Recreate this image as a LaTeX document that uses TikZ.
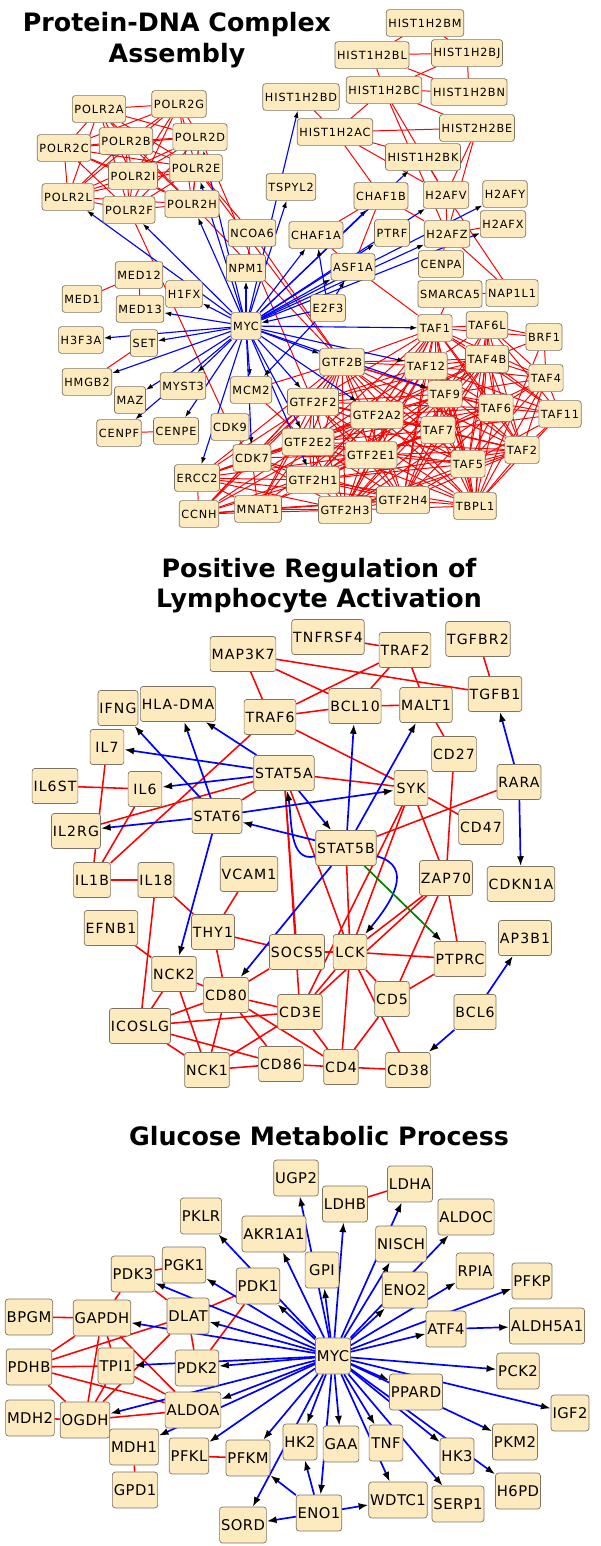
\documentclass[tikz,border=0pt]{standalone}
\usepackage{fontspec}
\setmainfont{DejaVu Sans}
\newfontfamily\genefont[LetterSpace=8]{DejaVu Sans}
\newfontfamily\genefontc[LetterSpace=3]{DejaVu Sans}
\usetikzlibrary{arrows.meta,
	backgrounds}
\definecolor{wheatfill}{RGB}{253,234,190}
\definecolor{boxline}{RGB}{125,118,100}

\begin{document}
\begin{tikzpicture}[x=0.025cm,y=-0.025cm]
        \tikzstyle{gene}=[draw=boxline,fill=wheatfill,rounded corners=2pt,line width=0.5pt,font={\genefont\fontsize{8}{9}\selectfont},minimum height=19pt,minimum width=18.5pt,inner xsep=1.5pt,inner ysep=0pt]
        \tikzstyle{geneb}=[gene,font={\genefont\fontsize{10}{11}\selectfont},minimum height=25pt,minimum width=24pt,inner xsep=1pt]
        \tikzstyle{genec}=[gene,font={\genefontc\fontsize{10.5}{12}\selectfont},minimum height=25.5pt,minimum width=24pt,inner xsep=1pt]
        \tikzstyle{ppi}=[red,line width=0.7pt]
        \tikzstyle{reg}=[blue,line width=0.8pt,-{Latex[black,length=5pt,width=3.5pt]}]
        \tikzstyle{ppib}=[red,line width=1.1pt]
        \tikzstyle{regb}=[blue,line width=1.2pt,-{Latex[black,length=7pt,width=5pt]}]
        \tikzstyle{title}=[font={\bfseries\fontsize{18}{22}\selectfont},anchor=base]
        \useasboundingbox (0,0) rectangle (600,1546);

        % titles
        \node[title] (t_1a) at (177,31) {Protein-DNA Complex};
        \node[title] (t_1b) at (177,62) {Assembly};
        \node[title] (t_2a) at (319,577) {Positive Regulation of};
        \node[title] (t_2b) at (319,607) {Lymphocyte Activation};
        \node[title] (t_3a) at (319,1145) {Glucose Metabolic Process};

        % protein-DNA complex assembly
        \foreach \n/\x/\y in {POLR2A/99/109, POLR2G/179/104, POLR2C/64/148, POLR2B/126/141,
          POLR2D/200/137, POLR2I/133/176, POLR2E/196/168, POLR2L/68/197, POLR2F/129/210,
          POLR2H/192/204, NCOA6/252/233, NPM1/246/268, HIST1H2BD/301/97, TSPYL2/291/187,
          HIST1H2BM/425/23, HIST1H2BL/372/55, HIST1H2BJ/467/53, HIST1H2BC/384/90,
          HIST1H2BN/469/92, HIST1H2AC/335/132, HIST2H2BE/477/128, HIST1H2BK/423/157,
          CHAF1B/381/196, H2AFV/446/195, H2AFY/505/194, H2AFX/503/224, PTRF/392/233,
          H2AFZ/447/234, CHAF1A/316/235, ASF1A/353/267, CENPA/441/264, MED12/139/275,
          MED1/82/299, H1FX/184/294, MED13/140/309, H3F3A/81/340, SET/144/343,
          HMGB2/87/382, MYST3/183/386, MAZ/130/400, MCM2/251/390, CENPF/119/433,
          CENPE/176/431, CDK9/230/427, CDK7/252/458, ERCC2/197/478, CCNH/199/514,
          MNAT1/258/509, E2F3/328/308, SMARCA5/450/294, NAP1L1/512/293, TAF1/435/328,
          TAF6L/487/325, BRF1/544/337, GTF2B/342/362, TAF12/426/366, TAF4B/487/359,
          TAF4/546/378, TAF9/445/394, GTF2F2/313/402, GTF2A2/377/415, TAF6/496/408,
          TAF11/560/414, TAF7/438/430, GTF2E2/308/442, TAF2/522/450, GTF2E1/371/455,
          TAF5/468/464, GTF2H1/313/480, GTF2H4/403/500, TBPL1/475/506, GTF2H3/345/510}
          \node[gene] (\n) at (\x,\y) {\n};
        \node[gene] (myc_1) at (246,326) {MYC};

        % lymphocyte activation
        \foreach \n/\x/\y in {MAP3K7/243/654, TNFRSF4/328/637, TRAF2/405/650, TGFBR2/478/639,
          IFNG/118/708, TRAF6/270/717, BCL10/355/706, MALT1/426/705, TGFB1/495/694,
          IL7/107/747, CD27/454/754, STAT5A/284/773, SYK/411/788, RARA/519/782,
          IL6ST/55/786, IL6/145/789, STAT6/217/816, CD47/481/827, IL2RG/76/831,
          STAT5B/346/848, IL1B/92/880, IL18/156/880, VCAM1/249/874, ZAP70/446/878,
          CDKN1A/521/884, EFNB1/111/928, THY1/213/932, SOCS5/297/952, LCK/350/952,
          PTPRC/460/959, AP3B1/525/938, NCK2/174/974, CD80/226/995, CD5/392/999,
          CD3E/300/1012, BCL6/475/1012, ICOSLG/140/1026, CD86/281/1064, CD4/341/1067,
          CD38/408/1070, NCK1/207/1070}
          \node[geneb] (\n) at (\x,\y) {\n};
        \node[geneb] (HLADMA) at (178,704) {HLA-DMA};

        % glucose metabolic process
        \foreach \n/\x/\y in {UGP2/296/1178, LDHA/410/1184, LDHB/345/1204, PKLR/201/1216,
          ALDOC/466/1217, AKR1A1/274/1234, NISCH/401/1244, PGK1/184/1265, GPI/322/1270,
          RPIA/475/1271, PDK3/133/1274, PFKP/532/1281, PDK1/258/1286, ENO2/405/1290,
          BPGM/29/1317, GAPDH/102/1318, DLAT/188/1316, ALDH5A1/547/1326, ATF4/446/1329,
          PDHB/29/1367, TPI1/116/1366, PDK2/197/1368, PCK2/518/1371, PPARD/416/1392,
          ALDOA/193/1410, IGF2/570/1413, MDH2/30/1418, OGDH/85/1420, HK2/300/1442,
          GAA/341/1444, TNF/386/1443, PKM2/515/1442, MDH1/134/1447, PFKL/189/1456,
          PFKM/248/1458, HK3/457/1456, GPD1/135/1490, H6PD/518/1491, WDTC1/398/1500,
          SERP1/458/1504, ENO1/319/1513, SORD/243/1525}
          \node[genec] (\n) at (\x,\y) {\n};
        \node[genec] (myc_3) at (333,1356) {MYC};

        \begin{scope}[on background layer]
        \fill[white] (0,0) rectangle (600,1546);

        % top: interactions
        \foreach \a [count=\i] in {POLR2A,POLR2G,POLR2C,POLR2B,POLR2D,POLR2I,POLR2E,POLR2L,POLR2F,POLR2H}
          \foreach \b [count=\j] in {POLR2A,POLR2G,POLR2C,POLR2B,POLR2D,POLR2I,POLR2E,POLR2L,POLR2F,POLR2H}
            {\ifnum\i<\j \draw[ppi] (\a) -- (\b); \fi}
        \foreach \a [count=\i] in {TAF1,TAF6L,TAF12,TAF4B,TAF4,TAF9,TAF6,TAF11,TAF7,TAF2,TAF5,TBPL1}
          \foreach \b [count=\j] in {TAF1,TAF6L,TAF12,TAF4B,TAF4,TAF9,TAF6,TAF11,TAF7,TAF2,TAF5,TBPL1}
            {\ifnum\i<\j \draw[ppi] (\a) -- (\b); \fi}
        \foreach \a [count=\i] in {CDK7,ERCC2,CCNH,MNAT1,GTF2B,GTF2F2,GTF2A2,GTF2E2,GTF2E1,GTF2H1,GTF2H4,GTF2H3}
          \foreach \b [count=\j] in {CDK7,ERCC2,CCNH,MNAT1,GTF2B,GTF2F2,GTF2A2,GTF2E2,GTF2E1,GTF2H1,GTF2H4,GTF2H3}
            {\ifnum\i<\j \draw[ppi] (\a) -- (\b); \fi}
        \foreach \a in {GTF2B,GTF2F2,GTF2A2,GTF2E2,GTF2E1,GTF2H1,GTF2H4,GTF2H3}
          \foreach \b in {TAF1,TAF12,TAF9,TAF6,TAF7,TAF2,TAF5,TBPL1,TAF4B}
            \draw[ppi] (\a) -- (\b);
        \foreach \a/\b in {POLR2F/CDK9, POLR2H/GTF2B, POLR2E/GTF2B, POLR2D/GTF2F2,
          POLR2E/NCOA6, NCOA6/NPM1, NCOA6/GTF2B, MED1/MED12, MED12/MED13, SET/HMGB2,
          CENPF/CENPE, CDK9/CDK7, MCM2/GTF2B, MCM2/GTF2E2,
          HIST1H2BM/HIST1H2BL, HIST1H2BM/HIST1H2BJ, HIST1H2BL/HIST1H2BJ, HIST1H2BL/HIST1H2BN,
          HIST1H2BL/HIST1H2BC, HIST1H2BJ/HIST1H2BC, HIST1H2BJ/HIST1H2BN, HIST1H2BC/HIST1H2BN,
          HIST1H2BC/HIST1H2AC, HIST1H2BC/HIST2H2BE, HIST1H2BC/H2AFV, HIST1H2BC/H2AFZ,
          HIST1H2AC/HIST2H2BE, HIST1H2AC/HIST1H2BD, HIST1H2AC/HIST1H2BK, HIST1H2AC/H2AFV,
          HIST1H2AC/CHAF1B, HIST2H2BE/H2AFV, HIST2H2BE/H2AFZ, HIST1H2BK/H2AFV, H2AFV/H2AFZ,
          CHAF1B/H2AFZ, CHAF1A/CHAF1B, ASF1A/CHAF1A, ASF1A/CHAF1B, ASF1A/TAF1,
          H2AFZ/NAP1L1, H2AFV/NAP1L1, H2AFZ/CENPA, H2AFX/H2AFZ, NAP1L1/SMARCA5,
          SMARCA5/TAF1, BRF1/TAF6L, BRF1/TAF4B, BRF1/TAF4, BRF1/TAF1, BRF1/TBPL1}
          \draw[ppi] (\a) -- (\b);

        % top: regulation
        \foreach \b in {POLR2L,POLR2F,POLR2H,POLR2E,POLR2D,NPM1,TSPYL2,HIST1H2BD,CHAF1A,
          CHAF1B,HIST1H2BK,PTRF,H2AFV,H2AFZ,H2AFY,H2AFX,ASF1A,TAF1,GTF2B,TAF12,TAF9,
          GTF2A2,GTF2F2,GTF2E2,GTF2H1,MCM2,CDK7,ERCC2,CENPE,MYST3,MAZ,CENPF,HMGB2,SET,
          H3F3A,MED13,H1FX}
          \draw[reg] (myc_1) -- (\b);
        \foreach \b in {myc_1,CHAF1A,ASF1A,MCM2}
          \draw[reg] (E2F3) -- (\b);

        % middle: interactions
        \foreach \a/\b in {MAP3K7/TRAF6, MAP3K7/TGFB1, MAP3K7/BCL10, TNFRSF4/TRAF2,
          TRAF2/TRAF6, TRAF2/BCL10, TRAF2/MALT1, BCL10/MALT1, TRAF6/BCL10, TGFBR2/TGFB1,
          MALT1/CD27, TRAF6/SYK, TRAF6/IL1B, STAT5A/SYK, STAT5A/IL2RG, IL7/IL1B,
          IL6ST/IL6, IL6/IL1B, IL1B/IL18, IL18/THY1, IL18/ICOSLG, VCAM1/THY1, EFNB1/NCK2,
          THY1/SOCS5, THY1/CD80, NCK2/CD80, NCK2/ICOSLG, NCK2/NCK1, CD80/ICOSLG, CD80/NCK1,
          CD80/CD3E, CD80/CD86, CD80/CD4, SOCS5/CD80, ICOSLG/CD3E, ICOSLG/CD86, ICOSLG/NCK1,
          NCK1/CD86, NCK1/CD3E, CD86/CD4, CD3E/LCK, CD3E/ZAP70, CD3E/CD4, LCK/SOCS5,
          LCK/PTPRC, LCK/CD5, LCK/CD4, LCK/CD38, LCK/ZAP70, LCK/STAT5B, LCK/SYK, CD5/ZAP70,
          CD5/PTPRC, CD5/CD4, CD4/CD38, PTPRC/ZAP70, ZAP70/SYK, ZAP70/CD27, SYK/CD47,
          RARA/STAT5B, STAT5A/SOCS5, STAT6/STAT5A, STAT5A/LCK, STAT5A/CD3E, SYK/CD3E}
          \draw[ppib] (\a) -- (\b);

        % middle: regulation
        \foreach \a/\b in {STAT5A/HLADMA, STAT5A/IL7, STAT5A/IL6, STAT6/IFNG, STAT6/HLADMA,
          STAT6/IL2RG, STAT6/SYK, STAT5A/STAT5B, STAT5B/STAT6, STAT5B/BCL10, STAT5B/MALT1,
          STAT6/NCK2, STAT5B/CD80, RARA/TGFB1, RARA/CDKN1A, BCL6/AP3B1, BCL6/CD38}
          \draw[regb] (\a) -- (\b);
        \draw[regb] (STAT5B) to[out=195,in=-80] (STAT5A);
        \draw[regb] (STAT5B) to[out=-15,in=50,looseness=1.3] (LCK);
        \draw[regb,green!50!black] (STAT5B) -- (PTPRC);

        % bottom: interactions
        \foreach \a/\b in {LDHB/LDHA, BPGM/GAPDH, MDH2/OGDH, MDH1/GPD1, PFKL/PFKM,
          PDK3/PGK1, PDK3/GAPDH, PDK3/DLAT, PDK1/DLAT, PDK1/PDK2, GAPDH/PDHB, GAPDH/TPI1,
          GAPDH/OGDH, GAPDH/ALDOA, DLAT/PDHB, DLAT/OGDH, DLAT/PDK2, PDHB/TPI1, PDHB/ALDOA,
          PDHB/OGDH, TPI1/OGDH, TPI1/ALDOA, OGDH/ALDOA}
          \draw[ppib] (\a) -- (\b);

        % bottom: regulation
        \foreach \b in {PKLR,AKR1A1,UGP2,GPI,LDHB,LDHA,NISCH,ALDOC,ENO2,RPIA,PFKP,ATF4,
          PCK2,PPARD,IGF2,PKM2,HK3,H6PD,SERP1,TNF,WDTC1,GAA,ENO1,HK2,SORD,PFKM,PFKL,
          ALDOA,OGDH,MDH1,TPI1,PDK2,DLAT,GAPDH,PDK3,PGK1,PDK1}
          \draw[regb] (myc_3) -- (\b);
        \foreach \a/\b in {ATF4/ALDH5A1, ENO1/HK2, ENO1/WDTC1, ENO1/SORD, ENO1/PFKM}
          \draw[regb] (\a) -- (\b);
        \end{scope}
      \end{tikzpicture}
\end{document}
